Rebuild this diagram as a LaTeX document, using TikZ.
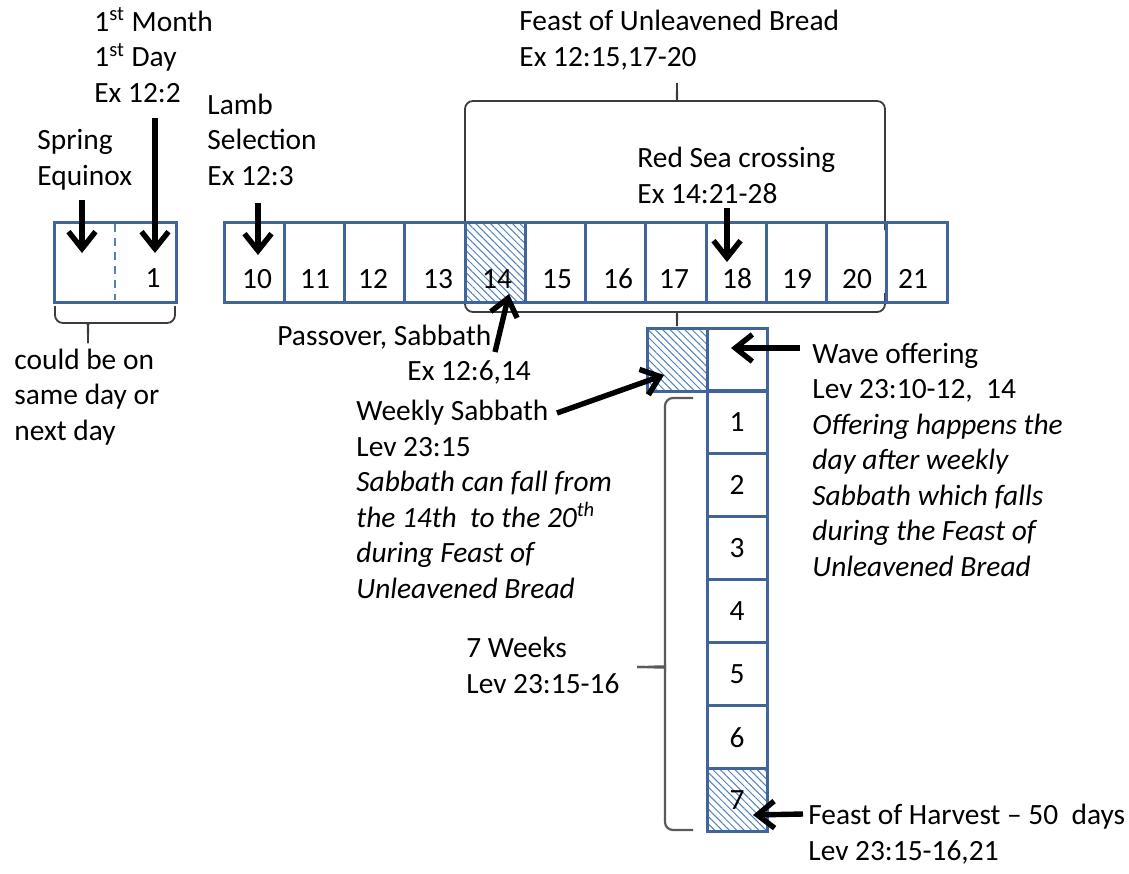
\documentclass[tikz,border=0pt]{standalone}
\usepackage{fontspec}
\setmainfont{Carlito}
\usetikzlibrary{arrows.meta,patterns.meta}
\definecolor{boxblue}{RGB}{65,101,154}
\definecolor{hatchblue}{RGB}{79,129,189}
\definecolor{bracegray}{RGB}{60,60,60}
\definecolor{colbrace}{RGB}{90,90,90}
\begin{document}
\begin{tikzpicture}[x=0.5pt,y=-0.5pt,
  txt/.style={anchor=base west, align=left, inner sep=0pt, font=\fontsize{14.7}{17.75}\selectfont},
  num/.style={anchor=base, inner sep=0pt, font=\fontsize{14.7}{17.75}\selectfont},
  cellbox/.style={draw=boxblue, line width=1.5pt, inner sep=0pt, outer sep=0pt,
    minimum width=30.125pt, minimum height=40pt, font=\fontsize{14.7}{17.75}\selectfont},
  colcell/.style={cellbox, minimum width=30pt, minimum height=31.57pt},
  hatch/.style={pattern={Lines[angle=-45,distance=2.6pt,line width=0.5pt]}, pattern color=hatchblue},
  arr/.style={line width=2.7pt, -{Straight Barb[length=8.5pt,width=13.5pt]}},
  bracestyle/.style={draw=bracegray, line width=0.9pt, rounded corners=4pt},
]
\useasboundingbox (0,0) rectangle (1129,873);

% ---------- braces ----------
\draw[bracestyle] (465,230) -- (465,101) -- (670,101) .. controls (676,101) and (677,97) .. (677,83);
\draw[bracestyle] (885,230) -- (885,101) -- (684,101) .. controls (678,101) and (677,97) .. (677,83);
\draw[bracestyle] (465,293) -- (465,312) -- (670,312) .. controls (676,312) and (677,316) .. (677,326);
\draw[bracestyle] (885,293) -- (885,312) -- (684,312) .. controls (678,312) and (677,316) .. (677,326);
\draw[bracestyle] (55,306) -- (55,323) -- (82,323) .. controls (87,323) and (88,327) .. (88,343);
\draw[bracestyle] (175,306) -- (175,323) -- (94,323) .. controls (89,323) and (88,327) .. (88,343);
\draw[bracestyle, draw=colbrace, line width=1.1pt] (693,398) -- (665,398) -- (665,660) .. controls (665,665) and (660,667) .. (637,667);
\draw[bracestyle, draw=colbrace, line width=1.1pt] (693,830) -- (665,830) -- (665,674) .. controls (665,669) and (660,667) .. (637,667);

% ---------- left box ----------
\node[cellbox, minimum width=61pt] (eq) at (115,262) {};
\draw[hatchblue, line width=1.2pt, dash pattern=on 4pt off 3pt] ([yshift=-1pt]eq.north) -- ([yshift=1pt]eq.south);
\node[num] (n1) at (153,287) {1};

% ---------- day row ----------
\foreach \n [count=\i from 0] in {10,...,21} {
  \node[cellbox] (d\n) at ({224+60.25*(\i+0.5)},262) {};
}
\node[cellbox, hatch] (d14h) at (d14) {};
\foreach \n/\x in {10/257,11/315,12/373,13/438,14/497,15/557,16/618,17/674,18/737,19/797,20/857,21/913} {
  \node[num] (n\n) at (\x,288) {\n};
}

% ---------- weeks column ----------
\node[colcell, hatch] (ws) at (677,360) {};
\node[colcell] (wo) at (737,360) {};
\foreach \k in {1,...,6} {
  \node[colcell] (w\k) at (737,{390+63.14*(\k-0.5)}) {\k};
}
\node[colcell, hatch] (w7) at (737,{390+63.14*6.5}) {7};

% ---------- texts (anchor = baseline of the last line) ----------
\node[txt] (month) at (94,102) {1\textsuperscript{st} Month\\1\textsuperscript{st} Day\\Ex 12:2};
\node[txt] (spring) at (37,185) {Spring\\Equinox};
\node[txt] (lamb) at (207,185) {Lamb\\Selection\\Ex 12:3};
\node[txt] (feast) at (519,66) {Feast of Unleavened Bread\\Ex 12:15,17-20};
\node[txt] (redsea) at (637,203) {Red Sea crossing\\Ex 14:21-28};
\node[txt] (pass1) at (277,345) {Passover, Sabbath};
\node[txt] (pass2) at (407,380) {Ex 12:6,14};
\node[txt] (weekly) at (356,598) {Weekly Sabbath\\Lev 23:15\\\textit{Sabbath can fall from}\\\textit{the 14th\ \ to the 20\textsuperscript{th}}\\\textit{during Feast of}\\\textit{Unleavened Bread}};
\node[txt] (wave) at (812,576) {Wave offering\\Lev 23:10-12,\ \ 14\\\textit{Offering happens the}\\\textit{day after weekly}\\\textit{Sabbath which falls}\\\textit{during the Feast of}\\\textit{Unleavened Bread}};
\node[txt] (could) at (14,440) {could be on\\same day or\\next day};
\node[txt] (weeks) at (466,693) {7 Weeks\\Lev 23:15-16};
\node[txt] (harvest) at (808,860) {Feast of Harvest – 50\ \ days\\Lev 23:15-16,21};

% ---------- arrows ----------
\coordinate (spT) at (82,200);   \coordinate (spH) at (82,253);
\coordinate (mdT) at (155,118);  \coordinate (mdH) at (155,253);
\coordinate (lmT) at (258,203);  \coordinate (lmH) at (258,255);
\coordinate (rsT) at (727,208);  \coordinate (rsH) at (727,262);
\coordinate (psT) at (495,352);  \coordinate (psH) at (509,294);
\coordinate (wsT) at (557,413);  \coordinate (wsH) at (664,375);
\coordinate (woT) at (800,348);  \coordinate (woH) at (731,348);
\coordinate (hvT) at (803,814);  \coordinate (hvH) at (753,815);
\draw[arr] (spT) -- (spH);
\draw[arr] (mdT) -- (mdH);
\draw[arr] (lmT) -- (lmH);
\draw[arr] (rsT) -- (rsH);
\draw[arr] (psT) -- (psH);
\draw[arr] (wsT) -- (wsH);
\draw[arr] (woT) -- (woH);
\draw[arr] (hvT) -- (hvH);
\end{tikzpicture}
\end{document}
